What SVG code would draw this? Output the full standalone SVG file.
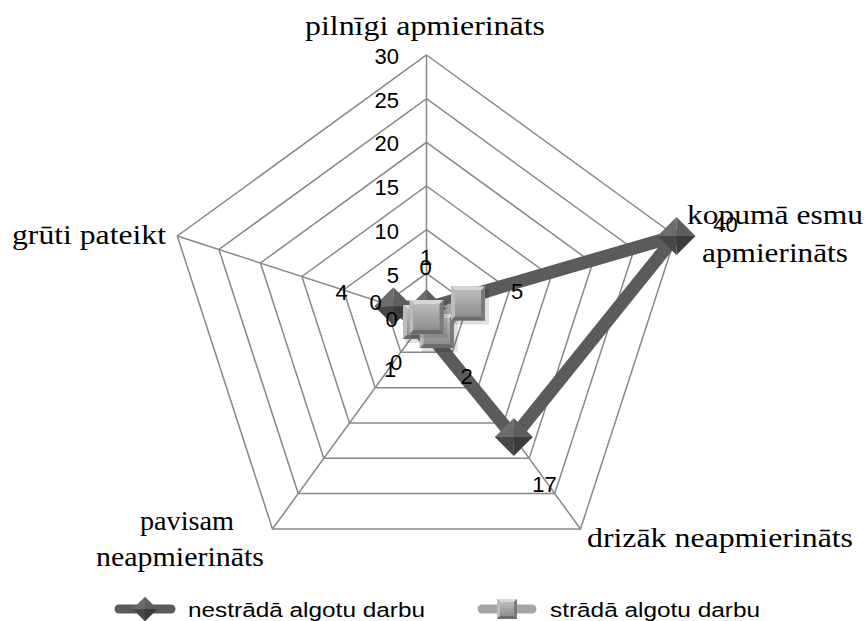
<svg xmlns="http://www.w3.org/2000/svg" width="866" height="621" viewBox="0 0 866 621">
<style>
.grid{fill:none;stroke:#888;stroke-width:1.5}
.ax{stroke:#888;stroke-width:1.5}
.num{font-family:"Liberation Sans",Arial,sans-serif;font-size:22px;fill:#000;text-anchor:end}
.dl{font-family:"Liberation Sans",Arial,sans-serif;font-size:22px;fill:#000;text-anchor:middle}
.cat{font-family:"Liberation Serif","Times New Roman",serif;font-size:28px;fill:#000}
.leg{font-family:"Liberation Sans",Arial,sans-serif;font-size:20px;fill:#000}
</style>
<defs>
<linearGradient id="sqg" x1="0" y1="0" x2="0" y2="1">
<stop offset="0" stop-color="#bcbcbc"/><stop offset="1" stop-color="#8e8e8e"/>
</linearGradient>
<g id="dia">
<polygon points="0,-19 -19,0 0,0" fill="#6c6c6c"/>
<polygon points="0,-19 19,0 0,0" fill="#5e5e5e"/>
<polygon points="-19,0 0,19 0,0" fill="#474747"/>
<polygon points="19,0 0,19 0,0" fill="#3c3c3c"/>
</g>
<g id="sq">
<rect x="-15" y="-15" width="36" height="36" fill="#000" opacity="0.12"/>
<rect x="-17" y="-17" width="34" height="34" fill="#8a8a8a"/>
<polygon points="-17,-17 17,-17 13,-13 -13,-13" fill="#d6d6d6"/>
<polygon points="-17,-17 -13,-13 -13,13 -17,17" fill="#bcbcbc"/>
<polygon points="17,-17 17,17 13,13 13,-13" fill="#7a7a7a"/>
<polygon points="-17,17 17,17 13,13 -13,13" fill="#6c6c6c"/>
<rect x="-13" y="-13" width="26" height="26" fill="url(#sqg)"/>
</g>
<g id="sqs">
<rect x="-10" y="-10" width="20" height="20" fill="#8a8a8a"/>
<polygon points="-10,-10 10,-10 7,-7 -7,-7" fill="#d6d6d6"/>
<polygon points="-10,-10 -7,-7 -7,7 -10,10" fill="#bcbcbc"/>
<polygon points="10,-10 10,10 7,7 7,-7" fill="#7a7a7a"/>
<polygon points="-10,10 10,10 7,7 -7,7" fill="#6c6c6c"/>
<rect x="-7" y="-7" width="14" height="14" fill="url(#sqg)"/>
</g>
</defs>
<rect width="866" height="621" fill="#fff"/>
<g id="grid">
<polygon class="grid" points="426.5,273.3 468.0,303.5 452.2,352.3 400.8,352.3 385.0,303.5"/>
<polygon class="grid" points="426.5,229.7 509.6,290.0 477.8,387.7 375.2,387.7 343.4,290.0"/>
<polygon class="grid" points="426.5,186 551.1,276.5 503.5,423.0 349.5,423.0 301.9,276.5"/>
<polygon class="grid" points="426.5,142.3 592.6,263.0 529.2,458.3 323.8,458.3 260.4,263.0"/>
<polygon class="grid" points="426.5,98.7 634.1,249.5 554.8,493.6 298.2,493.6 218.9,249.5"/>
<polygon class="grid" points="426.5,55 675.7,236.0 580.5,529.0 272.5,529.0 177.3,236.0"/>
<line class="ax" x1="426.5" y1="317" x2="426.5" y2="55"/>
<line class="ax" x1="426.5" y1="317" x2="675.7" y2="236.0"/>
<line class="ax" x1="426.5" y1="317" x2="580.5" y2="529.0"/>
<line class="ax" x1="426.5" y1="317" x2="272.5" y2="529.0"/>
<line class="ax" x1="426.5" y1="317" x2="177.3" y2="236.0"/>
</g>
<g id="axis-labels">
<text class="num" x="399" y="64">30</text>
<text class="num" x="399" y="108">25</text>
<text class="num" x="399" y="151">20</text>
<text class="num" x="399" y="195">15</text>
<text class="num" x="399" y="239">10</text>
<text class="num" x="399" y="283">5</text>
</g>
<g id="connectors">
<polygon id="series-nestrada-line" points="426.5,308.3 675.7,236.0 513.8,437.1 421.4,324.1 393.3,306.2" fill="none" stroke="#5b5b5b" stroke-width="13" stroke-linejoin="round"/>
<polygon id="series-strada-line" points="426.5,317 468.0,303.5 436.8,331.1 426.5,317 426.5,317" fill="none" stroke="#a6a6a6" stroke-width="11" stroke-linejoin="round"/>
</g>
<g id="markers-nestrada">
<use href="#dia" x="426.5" y="308.3"/>
<use href="#dia" x="421.4" y="324.1"/>
<use href="#dia" x="393.3" y="306.2"/>
<use href="#dia" x="513.8" y="437.1"/>
<use href="#dia" x="676.5" y="236.0"/>
</g>
<g id="markers-strada">
<use href="#sq" x="420" y="322"/>
<use href="#sq" x="436.8" y="331.1"/>
<use href="#sq" x="426.5" y="317"/>
<use href="#sq" x="468.0" y="303.5"/>
</g>
<g id="data-labels">
<text class="dl" x="426" y="265">1</text>
<text class="dl" x="425.5" y="275">0</text>
<text class="dl" x="375.5" y="310">0</text>
<text class="dl" x="391.5" y="327">0</text>
<text class="dl" x="341.5" y="300">4</text>
<text class="dl" x="396" y="370">0</text>
<text class="dl" x="390" y="377">1</text>
<text class="dl" x="466.5" y="384">2</text>
<text class="dl" x="517" y="299">5</text>
<text class="dl" x="544.5" y="492">17</text>
<text class="dl" x="725.5" y="232">40</text>
</g>
<g id="category-labels">
<text class="cat" x="305" y="35" textLength="240" lengthAdjust="spacingAndGlyphs">pilnīgi apmierināts</text>
<text class="cat" x="687" y="224" textLength="176" lengthAdjust="spacingAndGlyphs">kopumā esmu</text>
<text class="cat" x="702" y="262" textLength="146" lengthAdjust="spacingAndGlyphs">apmierināts</text>
<text class="cat" x="587" y="547" textLength="266" lengthAdjust="spacingAndGlyphs">drizāk neapmierināts</text>
<text class="cat" x="12" y="244" textLength="154" lengthAdjust="spacingAndGlyphs">grūti pateikt</text>
<text class="cat" x="140" y="530" textLength="94" lengthAdjust="spacingAndGlyphs">pavisam</text>
<text class="cat" x="96" y="566" textLength="168" lengthAdjust="spacingAndGlyphs">neapmierināts</text>
</g>
<g id="legend">
<line x1="119" y1="609" x2="171" y2="609" stroke="#5b5b5b" stroke-width="9" stroke-linecap="round"/>
<g transform="translate(145,609) scale(0.65)"><use href="#dia"/></g>
<text class="leg" x="188" y="617" textLength="237" lengthAdjust="spacingAndGlyphs">nestrādā algotu darbu</text>
<line x1="482" y1="609" x2="532" y2="609" stroke="#a6a6a6" stroke-width="9" stroke-linecap="round"/>
<use href="#sqs" x="507" y="609"/>
<text class="leg" x="550" y="617" textLength="210" lengthAdjust="spacingAndGlyphs">strādā algotu darbu</text>
</g>
</svg>
